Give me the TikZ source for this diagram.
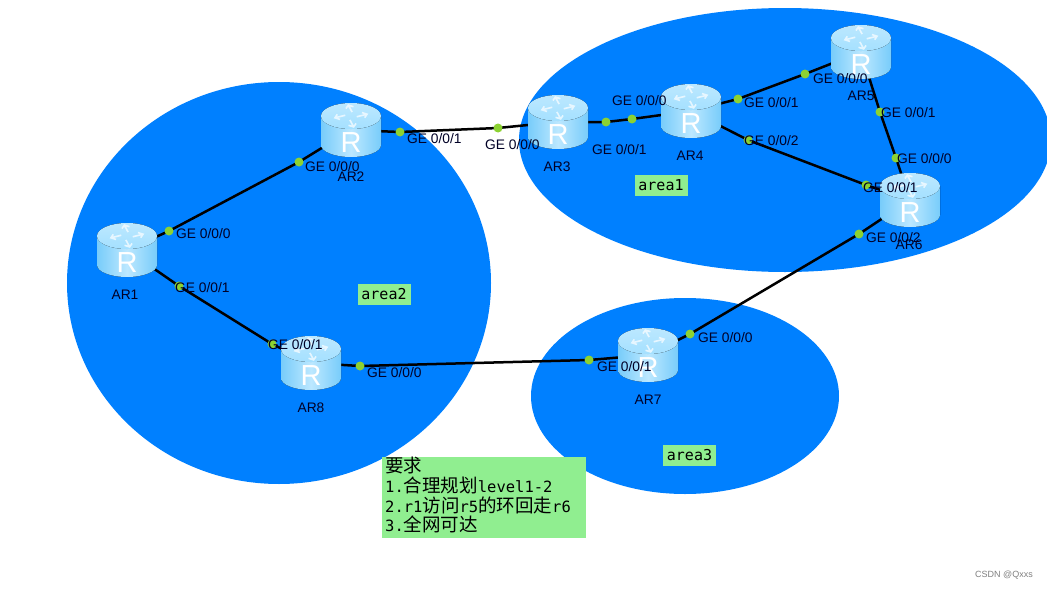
\documentclass[tikz,border=0pt]{standalone}
\usepackage{fontspec}
\setmainfont{Liberation Sans}
\newfontfamily\monof{DejaVu Sans Mono}
\newfontfamily\cjkf{Noto Sans CJK SC}
\usetikzlibrary{calc}
\definecolor{areablue}{HTML}{0080FF}
\definecolor{notegreen}{HTML}{90EE90}
\definecolor{dotgreen}{HTML}{8CD232}
\definecolor{rlight}{HTML}{BCE8FF}
\definecolor{rmid}{HTML}{78CCFA}
\definecolor{rtop}{HTML}{A4E0FF}
\pgfdeclarelayer{bgl}
\pgfdeclarelayer{linkl}
\pgfsetlayers{bgl,linkl,main}
\tikzset{
  x=1pt,y=-1pt,
  area/.style={fill=areablue,draw=none},
  link/.style={draw=black,line width=2.5pt},
  pt/.style={circle,fill=dotgreen,draw=none,inner sep=0pt,minimum size=9pt},
  iflabel/.style={font=\fontsize{13.8}{14}\selectfont,text=black!85!blue,anchor=west,inner sep=0pt},
  rname/.style={font=\fontsize{13.8}{14}\selectfont,text=black!85!blue,inner sep=0pt},
  rbox/.style={rectangle,minimum width=60pt,minimum height=54pt,inner sep=0pt,draw=none},
  tag/.style={fill=notegreen,inner sep=0pt,minimum width=53pt,minimum height=21pt,font=\monof\fontsize{15}{15}\selectfont},
  note/.style={fill=notegreen,anchor=north west,inner sep=0pt,minimum width=204pt,minimum height=81pt},
  notel/.style={anchor=west,inner sep=0pt,font=\monof\fontsize{15.5}{16}\selectfont},
  rgl/.style={font=\fontsize{29}{29}\selectfont,text=white,inner sep=0pt},
  rarrow/.style={draw=white,line width=1.6pt,opacity=.7}
}
\newcommand{\routerbody}[1]{%
  \begin{scope}[shift={(#1.center)}]
    \fill[left color=rmid,right color=rmid,middle color=rlight]
      (-30,-14) -- (-30,15) arc[start angle=180,end angle=360,x radius=30pt,y radius=12pt] -- (30,-14) -- cycle;
    \fill[top color=rlight,bottom color=rtop] (0,-14) ellipse[x radius=30pt,y radius=13pt];
    \begin{scope}[shift={(0,-14)},yscale=.68]
      \foreach \a in {20,110,200,290}{
        \begin{scope}[rotate=\a]
          \draw[rarrow] (5,3) -- (16,3) (12,-1) -- (16,3) -- (12,7);
        \end{scope}
      }
    \end{scope}
    \node[rgl] at (0,13) {R};
  \end{scope}}
\newcommand{\cj}[1]{{\cjkf\fontsize{18.5}{18.5}\selectfont #1}}
\begin{document}
\begin{tikzpicture}
\useasboundingbox (0,0) rectangle (1047,589);
\begin{pgfonlayer}{bgl}
\fill[white] (0,0) rectangle (1047,589);
\begin{scope}
\clip (0,0) rectangle (1047,589);
\fill[area] (279,283) ellipse[x radius=212pt,y radius=201pt];
\fill[area] (785,140) ellipse[x radius=266pt,y radius=132pt];
\fill[area] (685,396) ellipse[x radius=154pt,y radius=98pt];
\end{scope}
\end{pgfonlayer}
\node[rbox] (AR1) at (127,250) {};
\node[rbox] (AR2) at (351,130) {};
\node[rbox] (AR3) at (558,122) {};
\node[rbox] (AR4) at (691,111) {};
\node[rbox] (AR5) at (861,52) {};
\node[rbox] (AR6) at (910,200) {};
\node[rbox] (AR7) at (648,355) {};
\node[rbox] (AR8) at (311,363) {};
\routerbody{AR1}\routerbody{AR2}\routerbody{AR3}\routerbody{AR4}
\routerbody{AR5}\routerbody{AR6}\routerbody{AR7}\routerbody{AR8}
\foreach \n/\x/\y in {p1/169/231,p2/299/162,p3/179/286,p4/272/344,p5/400/132,p6/498/128,p7/606/122,p8/632/119,p9/738/99,p10/805/74,p11/748/140,p12/866/185,p13/880/112,p14/896/158,p15/859/234,p16/690/334,p17/589/360,p18/360/366}{
  \node[pt] (\n) at (\x,\y) {};
}
\begin{pgfonlayer}{linkl}
\draw[link] (AR1.center) -- (p1.center) -- (p2.center) -- (AR2.center);
\draw[link] (AR1.center) -- (p3.center) -- (p4.center) -- (AR8.center);
\draw[link] (AR2.center) -- (p5.center) -- (p6.center) -- (AR3.center);
\draw[link] (AR3.center) -- (p7.center) -- (p8.center) -- (AR4.center);
\draw[link] (AR4.center) -- (p9.center) -- (p10.center) -- (AR5.center);
\draw[link] (AR4.center) -- (p11.center) -- (p12.center) -- (AR6.center);
\draw[link] (AR5.center) -- (p13.center) -- (p14.center) -- (AR6.center);
\draw[link] (AR6.center) -- (p15.center) -- (p16.center) -- (AR7.center);
\draw[link] (AR7.center) -- (p17.center) -- (p18.center) -- (AR8.center);
\end{pgfonlayer}
\foreach \x/\y/\t in {176/234/0,305/167/0,175/288/1,268/345/1,407/139/1,485/145/0,592/150/1,612/101/0,744/103/1,813/79/0,744/141/2,863/188/1,881/113/1,897/159/0,866/238/2,698/338/0,597/367/1,367/373/0}{
  \node[iflabel] at (\x,\y) {GE 0/0/\t};
}
\node[rname] (n1) at (125,295) {AR1};
\node[rname] (n2) at (351,177) {AR2};
\node[rname] (n3) at (557,167) {AR3};
\node[rname] (n4) at (690,156) {AR4};
\node[rname] (n5) at (861,96) {AR5};
\node[rname] (n6) at (909,245) {AR6};
\node[rname] (n7) at (648,400) {AR7};
\node[rname] (n8) at (311,408) {AR8};
\node[tag] (a1) at (661,185) {area1};
\node[tag] (a2) at (384,294) {area2};
\node[tag] (a3) at (689.5,455.5) {area3};
\node[note] (req) at (382,457) {};
\node[notel] (l1) at (385,466) {\cj{要求}};
\node[notel] (l2) at (385,485) {1.\cj{合理规划}level1-2};
\node[notel] (l3) at (385,505) {2.r1\cj{访问}r5\cj{的环回走}r6};
\node[notel] (l4) at (385,524) {3.\cj{全网可达}};
\node[anchor=east,inner sep=0,font=\fontsize{9}{10}\selectfont,text=black!50] (wm) at (1033,575) {CSDN @Qxxs};
\end{tikzpicture}
\end{document}
